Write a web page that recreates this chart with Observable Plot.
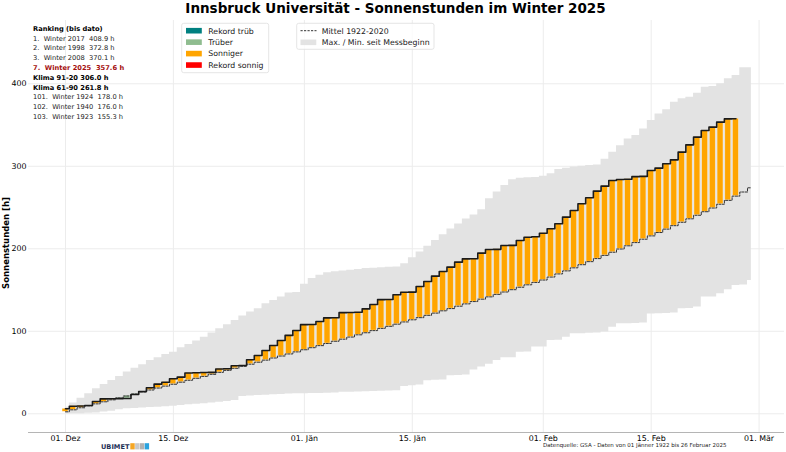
<!DOCTYPE html>
<html><head><meta charset="utf-8">
<script src="https://cdn.jsdelivr.net/npm/d3@7"></script>
<script src="https://cdn.jsdelivr.net/npm/@observablehq/plot@0.6"></script>
<style>
body{margin:0;background:#fff;}
#wrap{position:relative;width:786px;height:452px;overflow:hidden;font-family:"DejaVu Sans";background:#fff;}
#wrap > svg{position:absolute;left:0;top:0;}
</style></head><body><div id="wrap"></div>
<script>
// ---- data ----
const xTickDays = [0, 14, 31, 45, 62, 76, 90];
const xTickLabels = ["01. Dez", "15. Dez", "01. Jän", "15. Jän", "01. Feb", "15. Feb", "01. Mär"];
const yTicks = [0, 100, 200, 300, 400];

// cumulative sunshine hours winter 2025, day 0 = 1 Dec ... day 87 = 26 Feb
const sun2025 = [6.0, 9.2, 9.5, 10.0, 14.9, 18.0, 18.2, 18.4, 18.6, 23.4,
  27.0, 31.5, 35.9, 38.3, 42.4, 44.4, 49.5, 49.8, 50.0, 50.2,
  54.3, 54.6, 58.3, 58.6, 65.4, 70.7, 76.7, 82.8, 88.8, 95.0,
  101.0, 108.0, 108.3, 111.9, 116.2, 116.4, 122.6, 122.8, 123.0, 127.2,
  132.5, 138.4, 138.6, 144.2, 147.3, 147.5, 154.3, 160.4, 166.8, 172.5,
  177.7, 183.8, 187.8, 188.0, 194.7, 199.1, 199.3, 203.9, 204.1, 210.0,
  214.0, 214.5, 218.9, 224.2, 230.3, 238.4, 246.4, 254.5, 261.8, 269.9,
  275.9, 282.8, 283.9, 284.2, 287.4, 287.7, 294.9, 297.7, 303.0, 307.8,
  317.1, 326.0, 335.3, 343.4, 347.4, 353.5, 357.4, 357.6];

// mean 1922-2020, day 0 .. 89
const mean = [2.4, 4.8, 7.3, 9.6, 12.0, 14.5, 16.9, 19.2, 21.6, 24.0,
  26.3, 28.8, 31.2, 33.5, 35.8, 38.3, 40.6, 43.0, 45.3, 47.8,
  50.2, 52.6, 55.1, 57.5, 60.1, 62.5, 65.0, 67.6, 70.0, 72.5,
  75.0, 77.6, 80.1, 82.6, 85.2, 87.9, 90.4, 93.0, 95.7, 98.2,
  100.8, 103.5, 106.0, 108.6, 111.3, 113.9, 116.5, 119.3, 122.0, 124.8,
  127.5, 130.4, 133.2, 136.0, 138.9, 141.7, 144.7, 147.6, 150.4, 153.4,
  156.3, 159.2, 162.1, 165.7, 169.5, 173.2, 176.9, 180.7, 184.4, 188.1,
  192.0, 195.8, 199.7, 203.6, 207.5, 211.6, 215.6, 219.7, 223.8, 228.0,
  232.1, 236.3, 240.6, 244.9, 249.4, 254.0, 258.7, 263.8, 268.8, 273.9];

// max since record start, day 0 .. 89
const maxH = [8, 13, 18.9, 24.2, 30.3, 35.5, 40.4, 45.2, 50.5, 55.3,
  59.4, 64.6, 67.9, 71.9, 74.7, 80, 84, 88.1, 92.9, 97.8,
  103, 107.9, 113.2, 118.4, 123.3, 127.3, 133.4, 137.4, 141.5, 146.3,
  147, 157, 164, 168, 171, 172, 173, 174, 175, 176,
  176.5, 177, 177.5, 178, 182, 189, 196, 203, 210, 217,
  224, 230, 236, 241, 247.3, 260.6, 268.7, 276.8, 283.6, 285.5,
  286, 286.5, 288, 291, 296, 297.5, 299, 300, 301, 301.5,
  308.5, 317, 325, 333, 337.2, 345.3, 355.4, 363.5, 368.4, 377.7,
  381.7, 383.7, 388.6, 395.9, 396.7, 400, 406, 410, 419.4, 419.4];

// min since record start, day 0 .. 89
const minH = [0, 0, 0, 0.5, 1, 2, 3, 5, 6, 6.5,
  7, 7.5, 8, 8.5, 9, 10, 11, 11.5, 12, 13,
  14, 15, 16, 21, 21.5, 22, 22.5, 23, 23.5, 24,
  24.2, 24.3, 24.5, 24.7, 25, 25.2, 26, 26.2, 26.4, 26.6,
  27, 27.2, 27.5, 28, 33, 34, 35, 40, 40.5, 41,
  46, 46.5, 47, 53, 56.6, 60, 64.6, 67.9, 68, 74.7,
  75, 80.8, 81, 88.9, 89, 92.9, 97, 97, 97.5, 98,
  99, 105, 109, 109, 109.5, 110, 121, 121.2, 121.5, 122,
  127.3, 127.5, 129.3, 141.4, 141.5, 145.5, 150.3, 155.6, 156, 161.6];

const rankLines = ["Ranking (bis dato)", "1.  Winter 2017  408.9 h", "2.  Winter 1998  372.8 h",
  "3.  Winter 2008  370.1 h", "7.  Winter 2025  357.6 h", "Klima 91-20 306.0 h",
  "Klima 61-90 261.8 h", "101.  Winter 1924  178.0 h", "102.  Winter 1940  176.0 h",
  "103.  Winter 1923  155.3 h"];
const rankStyles = ["head", "n", "n", "n", "cur", "b", "b", "n", "n", "n"];

const legendLabels = ["Rekord trüb", "Trüber", "Sonniger", "Rekord sonnig"];
const legendColors = ["#008080", "#8fbc8f", "#ffa500", "#ff0000"];
const title = "Innsbruck Universität - Sonnenstunden im Winter 2025";
const source = "Datenquelle: GSA - Daten von 01 Jänner 1922 bis 26 Februar 2025";

// ---- rows ----
const bandRows = mean.map((m, i) => ({day: i, mean: m, max: maxH[i], min: minH[i]}));
const barRows = sun2025.map((v, i) => ({day: i, value: v, mean: mean[i], max: maxH[i], min: minH[i]}));
function barColor(d) {
  if (d.value >= d.max) return legendColors[3];
  if (d.value <= d.min) return legendColors[0];
  return d.value >= d.mean ? legendColors[2] : legendColors[1];
}
const labelMap = new Map(xTickDays.map((d, i) => [d, xTickLabels[i]]));
const yDom = [-22.7, 476.7];

const chart = Plot.plot({
  width: 786, height: 452,
  marginLeft: 28, marginRight: 2, marginTop: 20, marginBottom: 20,
  style: {fontFamily: "DejaVu Sans", fontSize: "7.9px", background: "transparent", color: "#000"},
  x: {domain: [-4.8, 93.3], ticks: xTickDays, tickFormat: d => labelMap.get(d), tickSize: 0, tickPadding: 2.5, label: null},
  y: {domain: yDom, ticks: yTicks, tickSize: 0, tickPadding: 2, label: null},
  color: {type: "identity"},
  marks: [
    Plot.ruleX(xTickDays, {stroke: "#ececec"}),
    Plot.ruleY(yTicks, {stroke: "#ececec"}),
    Plot.areaY(bandRows, {x: "day", y1: "min", y2: "max", curve: "step", fill: "#e3e3e3"}),
    Plot.rectY(barRows, {x1: d => d.day - 0.38, x2: d => d.day + 0.38, y1: "mean", y2: "value",
      fill: barColor, stroke: "white", strokeOpacity: 0.55, strokeWidth: 0.6}),
    Plot.line(bandRows, {x: "day", y: "mean", curve: "step", stroke: "#333", strokeWidth: 1, strokeDasharray: "2.2,1.3"}),
    Plot.line(barRows, {x: "day", y: "value", curve: "step", stroke: "#1b1b1b", strokeWidth: 1.6}),
    Plot.ruleY([yDom[0]], {stroke: "#b5b5b5", strokeWidth: 1})
  ]
});
const wrap = document.getElementById("wrap");
wrap.appendChild(chart);

// ---- overlay texts ----
const ov = d3.select(wrap).append("svg").attr("width", 786).attr("height", 452)
  .style("font-family", "DejaVu Sans");

ov.append("text").attr("x", 395.5).attr("y", 12.7).attr("text-anchor", "middle")
  .attr("font-size", 13.5).attr("font-weight", "bold").attr("fill", "#000").text(title);

ov.append("text").attr("transform", "translate(9,243) rotate(-90)").attr("text-anchor", "middle")
  .attr("font-size", 8.5).attr("font-weight", "bold").attr("fill", "#000").text("Sonnenstunden [h]");

// ranking block
rankLines.forEach((t, k) => {
  const st = rankStyles[k];
  ov.append("text").attr("x", 33).attr("y", 30.7 + 9.8 * k)
    .attr("font-size", 6.7).style("white-space", "pre").attr("xml:space", "preserve")
    .attr("font-weight", st === "n" ? "normal" : "bold")
    .attr("fill", st === "cur" ? "#a50f0f" : (st === "n" ? "#222" : "#000"))
    .text(t);
});

// legend 1
ov.append("rect").attr("x", 181.7).attr("y", 23.3).attr("width", 87).attr("height", 49.4)
  .attr("rx", 2).attr("fill", "#fff").attr("fill-opacity", 0.8).attr("stroke", "#dedede").attr("stroke-width", 0.8);
legendLabels.forEach((t, k) => {
  const cy = 30.7 + 11.45 * k;
  ov.append("rect").attr("x", 186).attr("y", cy - 2.8).attr("width", 15.8).attr("height", 5.6).attr("fill", legendColors[k]);
  ov.append("text").attr("x", 208.3).attr("y", cy + 2.8).attr("font-size", 7.8).attr("fill", "#222").text(t);
});

// legend 2
ov.append("rect").attr("x", 296.7).attr("y", 23.3).attr("width", 137.3).attr("height", 26)
  .attr("rx", 2).attr("fill", "#fff").attr("fill-opacity", 0.8).attr("stroke", "#dedede").attr("stroke-width", 0.8);
ov.append("line").attr("x1", 300.5).attr("x2", 316.5).attr("y1", 30.7).attr("y2", 30.7)
  .attr("stroke", "#333").attr("stroke-width", 1).attr("stroke-dasharray", "2.2,1.3");
ov.append("text").attr("x", 321.7).attr("y", 33.5).attr("font-size", 7.8).attr("fill", "#222").text("Mittel 1922-2020");
ov.append("rect").attr("x", 300.5).attr("y", 39.5).attr("width", 15.8).attr("height", 5.6).attr("fill", "#e3e3e3");
ov.append("text").attr("x", 321.7).attr("y", 45.1).attr("font-size", 7.8).attr("fill", "#222").text("Max. / Min. seit Messbeginn");

// footer
ov.append("text").attr("x", 543).attr("y", 447).attr("font-size", 5.5).attr("fill", "#222").text(source);
ov.append("text").attr("x", 101).attr("y", 449.2).attr("font-size", 6.6).attr("font-weight", "bold")
  .attr("fill", "#1d2f55").text("UBIMET");
const logoCols = ["#f5a623", "#c9c9c9", "#b0b0b0", "#2aa3df"];
logoCols.forEach((c, k) => {
  ov.append("rect").attr("x", 130.3 + k * 4.8).attr("y", 443.2).attr("width", 4.4).attr("height", 6.2).attr("fill", c);
});
</script></body></html>
